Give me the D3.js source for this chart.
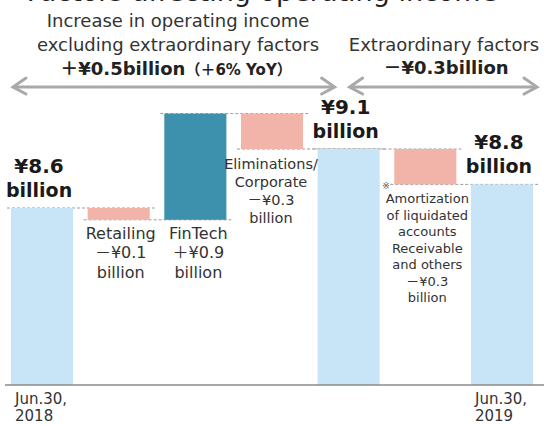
<!DOCTYPE html>
<html>
<head>
<meta charset="utf-8">
<script src="https://cdn.jsdelivr.net/npm/d3@7"></script>
<style>
  body { margin: 0; background: #fff; }
  svg { display: block; }
  text { font-family: "DejaVu Sans", "Noto Sans CJK JP", sans-serif; }
</style>
</head>
<body>
<script>

// Waterfall steps (totals and changes, ¥ billion)
const steps = ["Jun.30, 2018", "Retailing", "FinTech", "Eliminations/Corporate", "Subtotal", "Amortization", "Jun.30, 2019"];
const stepValues = [8.6, -0.1, 0.9, -0.3, 9.1, -0.3, 8.8];
const stepKinds = ["total", "delta", "delta", "delta", "total", "delta", "total"];

// Text shown with each step
const stepNames = [[], ["Retailing"], ["FinTech"], ["Eliminations/", "Corporate"], [],
    ["Amortization", "of liquidated", "accounts", "Receivable", "and others"], []];
const dateLabels = [["Jun.30,", "2018"], [], [], [], [], [], ["Jun.30,", "2019"]];

// Header texts
const titleText = "Factors affecting operating income";
const headerLeft = ["Increase in operating income", "excluding extraordinary factors"];
const headerLeftValue = ["＋¥0.5billion", "（＋6% YoY）"];
const headerRight = ["Extraordinary factors"];
const headerRightValue = "－¥0.3billion";

// Visible part of the value axis
const yDomain = [7.1, 9.4];


// Size of the picture
const width = 544;
const height = 425;

const svg = d3.select("body").append("svg")
    .attr("width", width)
    .attr("height", height)
    .attr("viewBox", [0, 0, width, height]);

// Scales
let xScale = d3.scaleBand().domain(steps).range([11, 533]).paddingInner(0.19).paddingOuter(0);
let yScale = d3.scaleLinear().domain(yDomain).range([385, 385 - 118 * (yDomain[1] - yDomain[0])]);
let bw = xScale.bandwidth();

// Work out where each bar starts and ends
let running = 0;
let bars = steps.map((step, i) => {
    let v = stepValues[i];
    if (stepKinds[i] === "total") {
        running = v;
        return {step, i, v, lo: yDomain[0], hi: v, end: v, kind: "total"};
    }
    let from = running;
    running = running + v;
    return {step, i, v, lo: Math.min(from, running), hi: Math.max(from, running), end: running, kind: "delta"};
});

const colour = d => d.kind === "total" ? "#c8e5f8" : (d.v < 0 ? "#f2b4a9" : "#3e91ac");

// Title (mostly cut off at the top of the picture)
svg.append("text")
    .attr("x", 262)
    .attr("y", 1)
    .attr("text-anchor", "middle")
    .attr("font-size", 27)
    .attr("fill", "#222")
    .text(titleText);

// Header: left block
headerLeft.forEach((t, k) => {
    svg.append("text")
        .attr("x", 178)
        .attr("y", 27 + k * 24)
        .attr("text-anchor", "middle")
        .attr("font-size", 18)
        .attr("fill", "#333")
        .text(t);
});
let lv = svg.append("text")
    .attr("x", 176)
    .attr("y", 75)
    .attr("text-anchor", "middle")
    .attr("font-size", 18)
    .attr("font-weight", "bold")
    .attr("fill", "#222");
lv.append("tspan").text(headerLeftValue[0]);
lv.append("tspan").attr("font-size", 15).text(headerLeftValue[1]);

// Header: right block
svg.append("text")
    .attr("x", 444)
    .attr("y", 51)
    .attr("text-anchor", "middle")
    .attr("font-size", 18)
    .attr("fill", "#333")
    .text(headerRight[0]);
svg.append("text")
    .attr("x", 446)
    .attr("y", 74)
    .attr("text-anchor", "middle")
    .attr("font-size", 18)
    .attr("font-weight", "bold")
    .attr("fill", "#222")
    .text(headerRightValue);

// Double-headed arrows under the headers
function arrow(x1, x2, y) {
    let g = svg.append("g")
        .attr("stroke", "#a9a9a9")
        .attr("stroke-width", 3)
        .attr("fill", "none")
        .attr("stroke-linecap", "round");
    g.append("line").attr("x1", x1 + 2).attr("x2", x2 - 2).attr("y1", y).attr("y2", y);
    g.append("path").attr("d", `M${x1 + 13},${y - 9}L${x1},${y}L${x1 + 13},${y + 7}`);
    g.append("path").attr("d", `M${x2 - 13},${y - 9}L${x2},${y}L${x2 - 13},${y + 7}`);
}
let splitX = xScale(steps[4]) + 17;
arrow(xScale(steps[0]) + 2, splitX, 87);
arrow(splitX + 15, xScale(steps[6]) + bw + 4, 87);

// Dashed connectors between neighbouring bars
let links = bars.slice(0, -1).map((d, k) => ({from: d, to: bars[k + 1]}));
svg.append("g")
    .selectAll("line")
    .data(links)
    .enter()
    .append("line")
    .attr("x1", l => xScale(l.from.step) - 4)
    .attr("x2", l => xScale(l.to.step) + bw + 5)
    .attr("y1", l => yScale(l.from.end))
    .attr("y2", l => yScale(l.from.end))
    .attr("stroke", "#9a9a9a")
    .attr("stroke-width", 1)
    .attr("stroke-dasharray", "3,2");

// Bars
svg.append("g")
    .selectAll("rect")
    .data(bars)
    .enter()
    .append("rect")
    .attr("x", d => xScale(d.step))
    .attr("width", bw)
    .attr("y", d => yScale(d.hi))
    .attr("height", d => yScale(d.lo) - yScale(d.hi))
    .attr("fill", colour);

// Baseline
let xAxis = d3.axisBottom(xScale).tickSize(0).tickFormat("");
let xAxisRef = svg.append("g")
    .attr("transform", `translate(0, ${yScale(yDomain[0])})`)
    .call(xAxis);
xAxisRef.select(".domain")
    .attr("d", "M5,0H544")
    .attr("stroke", "#8a8a8a")
    .attr("stroke-width", 1.5);

// Value labels above the totals
bars.filter(d => d.kind === "total").forEach(d => {
    let cx = xScale(d.step) + bw / 2 - 3;
    let top = yScale(d.hi);
    [`¥${d.v.toFixed(1)}`, "billion"].forEach((t, k) => {
        svg.append("text")
            .attr("x", cx)
            .attr("y", top - 35 + k * 24)
            .attr("text-anchor", "middle")
            .attr("font-size", k === 0 ? 20 : 19)
            .attr("font-weight", "bold")
            .attr("fill", "#1a1a1a")
            .text(t);
    });
});

// Labels under the changes
const labelStyle = {
    "Retailing": {size: 16, lh: 19.5, dx: 2, dy: 19},
    "FinTech": {size: 16, lh: 19.5, dx: 3, dy: 19},
    "Eliminations/Corporate": {size: 14.5, lh: 18, dx: -1, dy: 20},
    "Amortization": {size: 13, lh: 16.5, dx: 2, dy: 19}
};
bars.filter(d => d.kind === "delta").forEach(d => {
    let st = labelStyle[d.step];
    let cx = xScale(d.step) + bw / 2 + st.dx;
    let y0 = yScale(d.lo) + st.dy;
    let sign = d.v < 0 ? "－" : "＋";
    let lines = stepNames[d.i].concat([`${sign}¥${Math.abs(d.v).toFixed(1)}`, "billion"]);
    lines.forEach((t, k) => {
        svg.append("text")
            .attr("x", cx)
            .attr("y", y0 + k * st.lh)
            .attr("text-anchor", "middle")
            .attr("font-size", st.size)
            .attr("fill", "#333")
            .text(t);
    });
});

// Footnote mark next to the amortization label
svg.append("text")
    .attr("x", xScale(steps[5]) - 12)
    .attr("y", yScale(bars[5].lo) + 5)
    .attr("font-size", 9)
    .attr("fill", "#555")
    .text("※");

// Date labels under the axis
dateLabels.forEach((lines, i) => {
    lines.forEach((t, k) => {
        svg.append("text")
            .attr("x", xScale(steps[i]) + bw / 2 - 27)
            .attr("y", 404 + k * 17)
            .attr("font-size", 15)
            .attr("fill", "#333")
            .text(t);
    });
});

</script>
</body>
</html>
